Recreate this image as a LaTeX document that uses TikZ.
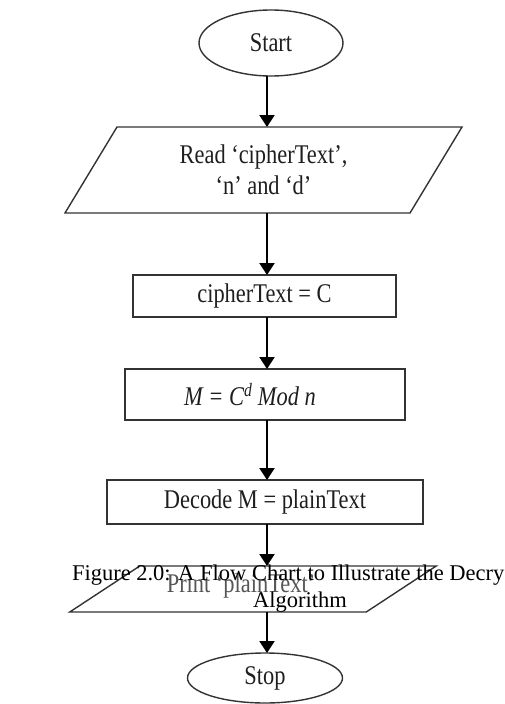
\documentclass[tikz,border=0pt]{standalone}
\usepackage{fontspec}
\setmainfont{Liberation Serif}
\usetikzlibrary{shapes.geometric,arrows.meta}
\definecolor{edge}{HTML}{333333}
\definecolor{ink}{HTML}{1E1E1E}
\definecolor{fadedink}{HTML}{555555}
% flowchart labels are set in a horizontally condensed serif
\newcommand{\narrowtxt}[1]{\scalebox{0.83}[1]{#1}}
\begin{document}
\begin{tikzpicture}[x=1pt,y=1pt,
  every node/.style={inner sep=0pt, outer sep=0pt},
  flowfont/.style={font=\fontsize{27}{33}\selectfont, text=ink},
  terminal/.style={ellipse, draw=edge, line width=1.4pt, flowfont},
  process/.style={rectangle, draw=edge, line width=1.4pt, flowfont},
  iobox/.style={rectangle, flowfont, align=center},
  ioline/.style={draw=edge, line width=1.4pt, line join=miter},
  flow/.style={draw=black, line width=2.2pt, -{Triangle[width=15pt,length=12pt]}},
  caption/.style={font=\fontsize{22.5}{27}\selectfont, text=black}
]
\useasboundingbox (0,0) rectangle (504,-704);
\clip (0,0) rectangle (504,-704);

% all connectors run down a common vertical axis
\coordinate (axis) at (267,0);

% start terminal
\node[terminal, minimum width=144, minimum height=66] (start) at (271,-43) {\narrowtxt{Start}};

% input: read cipher text and key
\node[iobox, minimum width=345, minimum height=86] (read) at (263.5,-170)
  {\narrowtxt{Read `cipherText',}\\[-2pt] \narrowtxt{`n' and `d'}};
\draw[ioline] ([xshift=26]read.north west) -- ([xshift=26]read.north east)
  -- ([xshift=-26]read.south east) -- ([xshift=-26]read.south west) -- cycle;

% processing steps
\node[process, minimum width=263, minimum height=42] (assign) at (264.5,-296) {\narrowtxt{cipherText = C}};
\node[process, minimum width=280, minimum height=51] (power) at (265,-394.5)
  {\narrowtxt{\itshape M = C\textsuperscript{d} Mod n}\kern30pt};
\node[process, minimum width=316, minimum height=44] (decode) at (265,-502) {\narrowtxt{Decode M = plainText}};

% output: print plain text
\node[iobox, minimum width=296.5, minimum height=46] (print) at (253,-589) {};
\draw[ioline] ([xshift=35]print.north west) -- ([xshift=35]print.north east)
  -- ([xshift=-35]print.south east) -- ([xshift=-35]print.south west) -- cycle;
\node[flowfont, text=fadedink] (printtxt) at (241,-586) {\narrowtxt{Print `plainText'}};

% stop terminal
\node[terminal, minimum width=155, minimum height=50] (stop) at (265,-678) {\narrowtxt{Stop}};

% connectors
\draw[flow] (start.south -| axis) -- (read.north -| axis);
\draw[flow] (read.south -| axis) -- (assign.north -| axis);
\draw[flow] (assign.south -| axis) -- (power.north -| axis);
\draw[flow] (power.south -| axis) -- (decode.north -| axis);
\draw[flow] (decode.south -| axis) -- (print.north -| axis);
\draw[flow] (print.south -| axis) -- (stop.north -| axis);

% figure caption laid over the output step
\node[caption, anchor=base west] (cap1) at (72,-580) {Figure 2.0: A Flow Chart to Illustrate the Decry};
\node[caption, anchor=base] (cap2) at (300,-607) {Algorithm};
\end{tikzpicture}
\end{document}
